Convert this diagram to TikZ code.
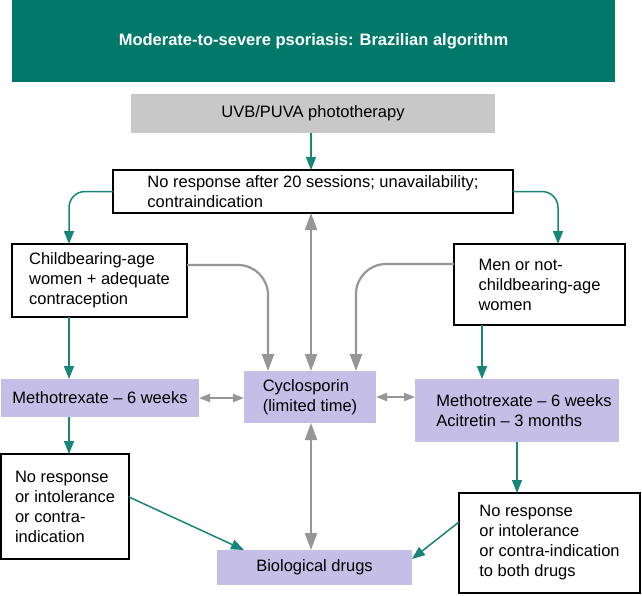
\documentclass[tikz,border=0pt]{standalone}
\usepackage{fontspec}
\setmainfont{Liberation Sans}
\usetikzlibrary{arrows.meta}
\definecolor{tealhead}{RGB}{0,121,107}
\definecolor{tealline}{RGB}{24,133,122}
\definecolor{lav}{RGB}{197,190,230}
\definecolor{boxgray}{RGB}{200,200,200}
\definecolor{arrgray}{RGB}{150,150,150}
\begin{document}
\begin{tikzpicture}[x=1pt,y=-1pt,
  base/.style={inner sep=0pt, outer sep=0pt, align=left, font=\fontsize{16.5}{20}\selectfont},
  whitebox/.style={base, draw=black, line width=1.3pt, fill=white},
  lavbox/.style={base, fill=lav},
  tl/.style={draw=tealline, line width=1.5pt, -{Triangle[length=13pt,width=10pt]}},
  gl/.style={draw=arrgray, line width=2.2pt, -{Triangle[length=17pt,width=12pt]}},
  gd/.style={draw=arrgray, line width=2.2pt, {Triangle[length=17pt,width=12pt]}-{Triangle[length=17pt,width=12pt]}},
  gs/.style={draw=arrgray, line width=2pt, {Triangle[length=11pt,width=8pt]}-{Triangle[length=11pt,width=8pt]}},
]
\useasboundingbox[fill=white] (0,0) rectangle (642,595);

\node[base, fill=tealhead, text=white, font=\bfseries\fontsize{16.5}{20}\selectfont, minimum width=603pt, minimum height=82pt] (title) at (313.5,41) {Moderate-to-severe psoriasis: Brazilian algorithm};
\node[base, fill=boxgray, minimum width=364pt, minimum height=39pt] (uvb) at (313,113.5) {UVB/PUVA phototherapy};
\node[whitebox, minimum width=400pt, minimum height=43pt] (nr) at (313,191.5) {No response after 20 sessions; unavailability;\\contraindication};
\node[whitebox, minimum width=175pt, minimum height=73pt] (cb) at (99.5,280.5) {Childbearing-age\\women + adequate\\contraception};
\node[whitebox, minimum width=171pt, minimum height=81pt] (men) at (539.5,284.5) {Men or not-\\childbearing-age\\women};
\node[lavbox, minimum width=198pt, minimum height=38pt] (mtxl) at (100,398) {Methotrexate – 6 weeks};
\node[lavbox, minimum width=132pt, minimum height=52pt] (cyc) at (310,397) {Cyclosporin\\(limited time)};
\node[lavbox, minimum width=204pt, minimum height=63pt] (mtxr) at (517,410.5) {\hspace*{14pt}Methotrexate – 6 weeks\\\hspace*{14pt}Acitretin – 3 months};
\node[whitebox, minimum width=128pt, minimum height=105pt] (nrl) at (65,506.5) {No response\\or intolerance\\or contra-\\indication};
\node[lavbox, minimum width=195pt, minimum height=35pt] (bio) at (314.5,567.5) {Biological drugs};
\node[whitebox, minimum width=181pt, minimum height=100pt] (nrr) at (549.5,543) {No response\\or intolerance\\or contra-indication\\to both drugs};

\coordinate (xl) at (69,0);
\coordinate (xr) at (558,0);
\coordinate (xm) at (482,0);
\coordinate (xb) at (517,0);
\coordinate (xc) at (311,0);
\coordinate (xga) at (268,0);
\coordinate (xgb) at (356,0);

\draw[tl] (uvb.south -| xc) -- (nr.north -| xc);
\draw[tl, rounded corners=16pt] (nr.west) -| (cb.north -| xl);
\draw[tl, rounded corners=16pt] (nr.east) -| (men.north -| xr);
\draw[tl] (cb.south -| xl) -- (mtxl.north -| xl);
\draw[tl] (mtxl.south -| xl) -- (nrl.north -| xl);
\draw[tl] (men.south -| xm) -- (mtxr.north -| xm);
\draw[tl] (mtxr.south -| xb) -- (nrr.north -| xb);
\draw[tl] ([yshift=9.5pt]nrl.east) -- ([xshift=27pt]bio.north west);
\draw[tl] ([yshift=21pt]nrr.west) -- ([yshift=8.5pt]bio.east);

\draw[gl, rounded corners=30pt] ([yshift=15.5pt]cb.east) -| (cyc.north -| xga);
\draw[gl, rounded corners=30pt] ([yshift=20.5pt]men.west) -| (cyc.north -| xgb);
\draw[gd] (nr.south -| xc) -- (cyc.north -| xc);
\draw[gd] (cyc.south -| xc) -- (bio.north -| xc);
\draw[gs] (mtxl.east) -- (mtxl.east -| cyc.west);
\draw[gs] (cyc.east) -- (cyc.east -| mtxr.west);
\end{tikzpicture}
\end{document}
